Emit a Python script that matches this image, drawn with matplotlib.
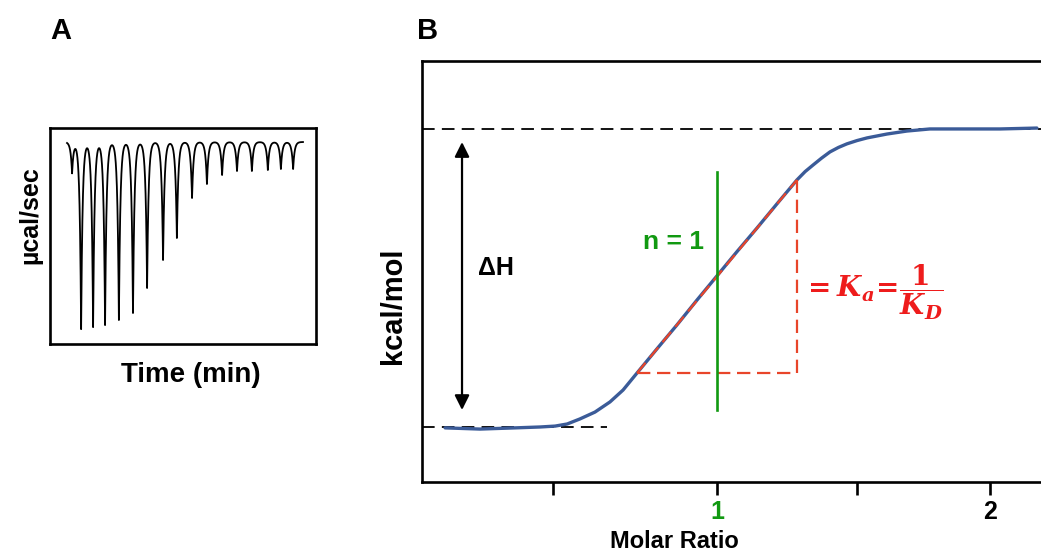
import matplotlib
matplotlib.use('Agg')
import matplotlib.pyplot as plt
import numpy as np

plt.rcParams['font.family'] = ['Liberation Sans', 'DejaVu Sans']
plt.rcParams['font.weight'] = 'bold'
plt.rcParams['mathtext.fontset'] = 'dejavuserif'

# panel A: raw ITC thermogram (injection time, peak depth)
inj_time = [8.3, 11.7, 16.2, 20.7, 25.9, 31.2, 36.5, 42.5, 47.7, 53.4,
            59.0, 64.7, 70.3, 75.9, 81.9, 86.8, 91.4]
peak_depth = [3.1, 18.7, 18.5, 18.3, 17.8, 17.1, 14.6, 11.8, 9.6, 5.6,
              4.2, 3.3, 2.9, 2.9, 2.8, 2.7, 2.7]
trace_start, trace_end = 6.4, 95.1

# panel B: integrated isotherm (molar ratio, normalised heat)
ratio = [0.004, 0.132, 0.260, 0.352, 0.407, 0.451, 0.498, 0.553, 0.608,
         0.656, 0.707, 0.780, 0.853, 0.926, 1.0, 1.073, 1.147, 1.220, 1.293,
         1.323, 1.352, 1.383, 1.414, 1.445, 1.476, 1.513, 1.550, 1.623,
         1.696, 1.780, 1.901, 2.037, 2.172]
heat = [-0.003, -0.007, -0.003, 0.0, 0.003, 0.010, 0.027, 0.050, 0.084,
        0.124, 0.181, 0.262, 0.342, 0.425, 0.507, 0.588, 0.668, 0.749, 0.829,
        0.857, 0.879, 0.902, 0.923, 0.938, 0.950, 0.961, 0.970, 0.983,
        0.993, 1.0, 1.0, 1.0, 1.003]
stoich = 1.0
tangent_x = [0.707, 1.293]
tangent_y = [0.181, 0.829]

fig = plt.figure(figsize=(10.41, 5.53), dpi=100)

# ---- A ----
axA = fig.add_axes([50/1041, 1-344/553, 266/1041, 216/553])
t = np.linspace(trace_start, trace_end, 6000)
t = np.sort(np.concatenate([t, inj_time]))
sig = np.zeros_like(t)
for ti, d in zip(inj_time, peak_depth):
    sig -= d * np.exp(-np.abs(t - ti) / 0.55)
axA.plot(t, sig, color='black', lw=1.3)
axA.set_xlim(0, 100)
axA.set_ylim(-20.2, 1.4)
axA.set_xticks([])
axA.set_yticks([])
for s in axA.spines.values():
    s.set_linewidth(1.9)
fig.text(30/1041, 1-215/553, 'µcal/sec', rotation=90, ha='center', va='center',
         fontsize=18, fontweight='bold')
fig.text(191/1041, 1-375/553, 'Time (min)', ha='center', va='center',
         fontsize=20, fontweight='bold')
fig.text(61/1041, 1-31/553, 'A', ha='center', va='center', fontsize=21, fontweight='bold')

# ---- B ----
axB = fig.add_axes([422/1041, 1-482/553, 1-422/1041, 421/553])
axB.set_xlim(-0.0806, 2.187)
axB.set_ylim(-0.1846, 1.228)
axB.spines['right'].set_visible(False)
for s in ['left', 'top', 'bottom']:
    axB.spines[s].set_linewidth(1.9)
axB.set_yticks([])
axB.set_xticks([0.4, 1.0, 1.513, 2.0])
axB.set_xticklabels(['', '1', '', '2'])
axB.tick_params(axis='x', length=9, width=1.9, pad=4, labelsize=18)
for lab in axB.get_xticklabels():
    lab.set_fontweight('bold')
axB.get_xticklabels()[1].set_color('#119911')

axB.plot([-0.0806, 2.187], [1, 1], color='black', lw=1.3, ls=(0, (7, 4)))
axB.plot([-0.0806, 0.597], [0, 0], color='black', lw=1.3, ls=(0, (7, 4)))
axB.plot(ratio, heat, color='#3b5b98', lw=2.4, solid_capstyle='round',
         solid_joinstyle='round')

axB.plot(tangent_x, tangent_y, color='#e8452a', lw=1.6, ls=(0, (6, 3)))
axB.plot([tangent_x[0], tangent_x[1], tangent_x[1]],
         [tangent_y[0], tangent_y[0], tangent_y[1]],
         color='#e8452a', lw=1.6, ls=(0, (6, 3)))

axB.plot([stoich, stoich], [0.057, 0.856], color='#119911', lw=1.9)
axB.text(0.952, 0.621, 'n = 1', color='#119911', ha='right', va='center',
         fontsize=19, fontweight='bold')

axB.annotate('', xy=(0.066, 0.956), xytext=(0.066, 0.057),
             arrowprops=dict(arrowstyle='<|-|>', color='black', lw=1.6,
                             mutation_scale=22, shrinkA=0, shrinkB=0))
axB.text(0.125, 0.534, 'ΔH', ha='left', va='center', fontsize=18, fontweight='bold')

axB.text(1.31, 0.45, r'$=\mathbfit{K_a}\!=\!\dfrac{\mathbf{1}}{\mathbfit{K_D}}$',
         color='#ee1c1c', ha='left', va='center', fontsize=20)

fig.text(393/1041, 1-306/553, 'kcal/mol', rotation=90, ha='center', va='center',
         fontsize=21, fontweight='bold')
fig.text(674/1041, 1-542/553, 'Molar Ratio', ha='center', va='center',
         fontsize=17, fontweight='bold')
fig.text(428/1041, 1-31/553, 'B', ha='center', va='center', fontsize=21, fontweight='bold')

fig.savefig('out.png', dpi=100)
